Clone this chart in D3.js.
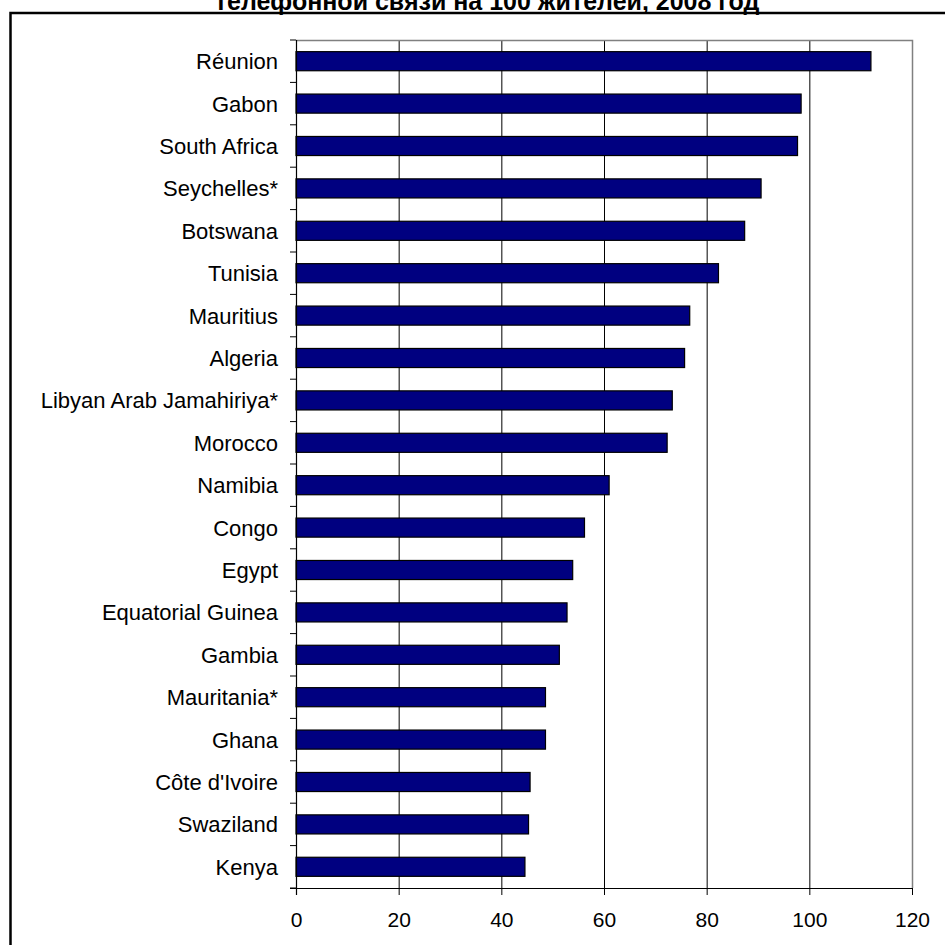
<!DOCTYPE html>
<html>
<head>
<meta charset="utf-8">
<script src="https://cdn.jsdelivr.net/npm/d3@7"></script>
<style>
  body { margin: 0; background: #fff; }
  text { font-family: "Liberation Sans", Arial, sans-serif; }
</style>
</head>
<body>
<div id="chart"></div>
<script>
// categories top to bottom
var countries = ["Réunion", "Gabon", "South Africa", "Seychelles*", "Botswana", "Tunisia",
    "Mauritius", "Algeria", "Libyan Arab Jamahiriya*", "Morocco", "Namibia", "Congo",
    "Egypt", "Equatorial Guinea", "Gambia", "Mauritania*", "Ghana", "Côte d'Ivoire",
    "Swaziland", "Kenya"]
var values = [112.0, 98.4, 97.7, 90.6, 87.4, 82.3, 76.7, 75.7, 73.3, 72.3,
    61.0, 56.2, 53.9, 52.8, 51.3, 48.6, 48.6, 45.6, 45.3, 44.6]
var xTicks = [0, 20, 40, 60, 80, 100, 120]
var titleText = "телефонной связи на 100 жителей, 2008 год"

// set the dimensions and margins of the graph
var width = 945,
    height = 945,
    margin = {top: 40, right: 33, bottom: 57, left: 296};

var svg = d3.select("#chart")
    .append("svg")
    .attr("width", width)
    .attr("height", height);

// outer frame (runs off the right and bottom edge)
svg.append("rect")
    .attr("x", 10.5)
    .attr("y", 13)
    .attr("width", 1000)
    .attr("height", 1000)
    .attr("fill", "none")
    .attr("stroke", "#000")
    .attr("stroke-width", 2.5);

// title, only its last line shows, cut at the top edge like the original
svg.append("text")
    .attr("x", 487)
    .attr("y", 10)
    .attr("text-anchor", "middle")
    .style("font-size", "25px")
    .style("font-weight", "bold")
    .text(titleText);

var x = d3.scaleLinear()
    .domain([0, 120])
    .range([margin.left, width - margin.right]);

var y = d3.scaleBand()
    .domain(countries)
    .range([margin.top, height - margin.bottom])
    .paddingInner(0.55)
    .paddingOuter(0.275);

var top0 = margin.top, bottom0 = height - margin.bottom;

// grid lines
svg.append("g")
    .selectAll("line")
    .data(xTicks.slice(1, -1))
    .enter()
    .append("line")
    .attr("x1", function (d) { return x(d) + 0.5 })
    .attr("x2", function (d) { return x(d) + 0.5 })
    .attr("y1", top0)
    .attr("y2", bottom0)
    .attr("stroke", "#000")
    .attr("stroke-width", 1);

// plot border top + right, grey
svg.append("path")
    .attr("d", "M" + x(0) + "," + (top0 + 0.5) + "H" + (x(120) + 0.5) + "V" + bottom0)
    .attr("fill", "none")
    .attr("stroke", "#808080")
    .attr("stroke-width", 1.5);

// bars
svg.append("g")
    .selectAll("rect")
    .data(countries)
    .enter()
    .append("rect")
    .attr("x", x(0))
    .attr("y", function (d) { return y(d) })
    .attr("width", function (d, i) { return x(values[i]) - x(0) })
    .attr("height", y.bandwidth())
    .attr("fill", "#000080")
    .attr("stroke", "#000")
    .attr("stroke-width", 1.2);

// category axis: ticks sit between bands
var step = y.step();
var yTickPos = d3.range(countries.length + 1).map(function (i) {
    return y(countries[0]) - y.paddingOuter() * step + i * step
});
svg.append("g")
    .selectAll("line")
    .data(yTickPos)
    .enter()
    .append("line")
    .attr("x1", x(0) - 6)
    .attr("x2", x(0))
    .attr("y1", function (d) { return d })
    .attr("y2", function (d) { return d })
    .attr("stroke", "#000");

svg.append("line")
    .attr("x1", x(0) + 0.5)
    .attr("x2", x(0) + 0.5)
    .attr("y1", top0)
    .attr("y2", bottom0 + 7)
    .attr("stroke", "#000")
    .attr("stroke-width", 1.2);

svg.append("g")
    .selectAll("text")
    .data(countries)
    .enter()
    .append("text")
    .attr("x", 278)
    .attr("y", function (d) { return y(d) + y.bandwidth() / 2 })
    .attr("dy", "0.36em")
    .attr("text-anchor", "end")
    .style("font-size", "22px")
    .text(function (d) { return d });

// value axis
var xAxis = svg.append("g")
    .attr("transform", "translate(0," + bottom0 + ")")
    .call(d3.axisBottom(x).tickValues(xTicks).tickSize(7).tickPadding(17).tickSizeOuter(0));
xAxis.select(".domain")
    .attr("d", "M" + (x(0) - 6) + ",0.5H" + x(120))
    .attr("stroke-width", 1.2);
xAxis.selectAll("text")
    .style("font-size", "21px")
    .style("font-family", "'Liberation Sans', Arial, sans-serif");
</script>
</body>
</html>
